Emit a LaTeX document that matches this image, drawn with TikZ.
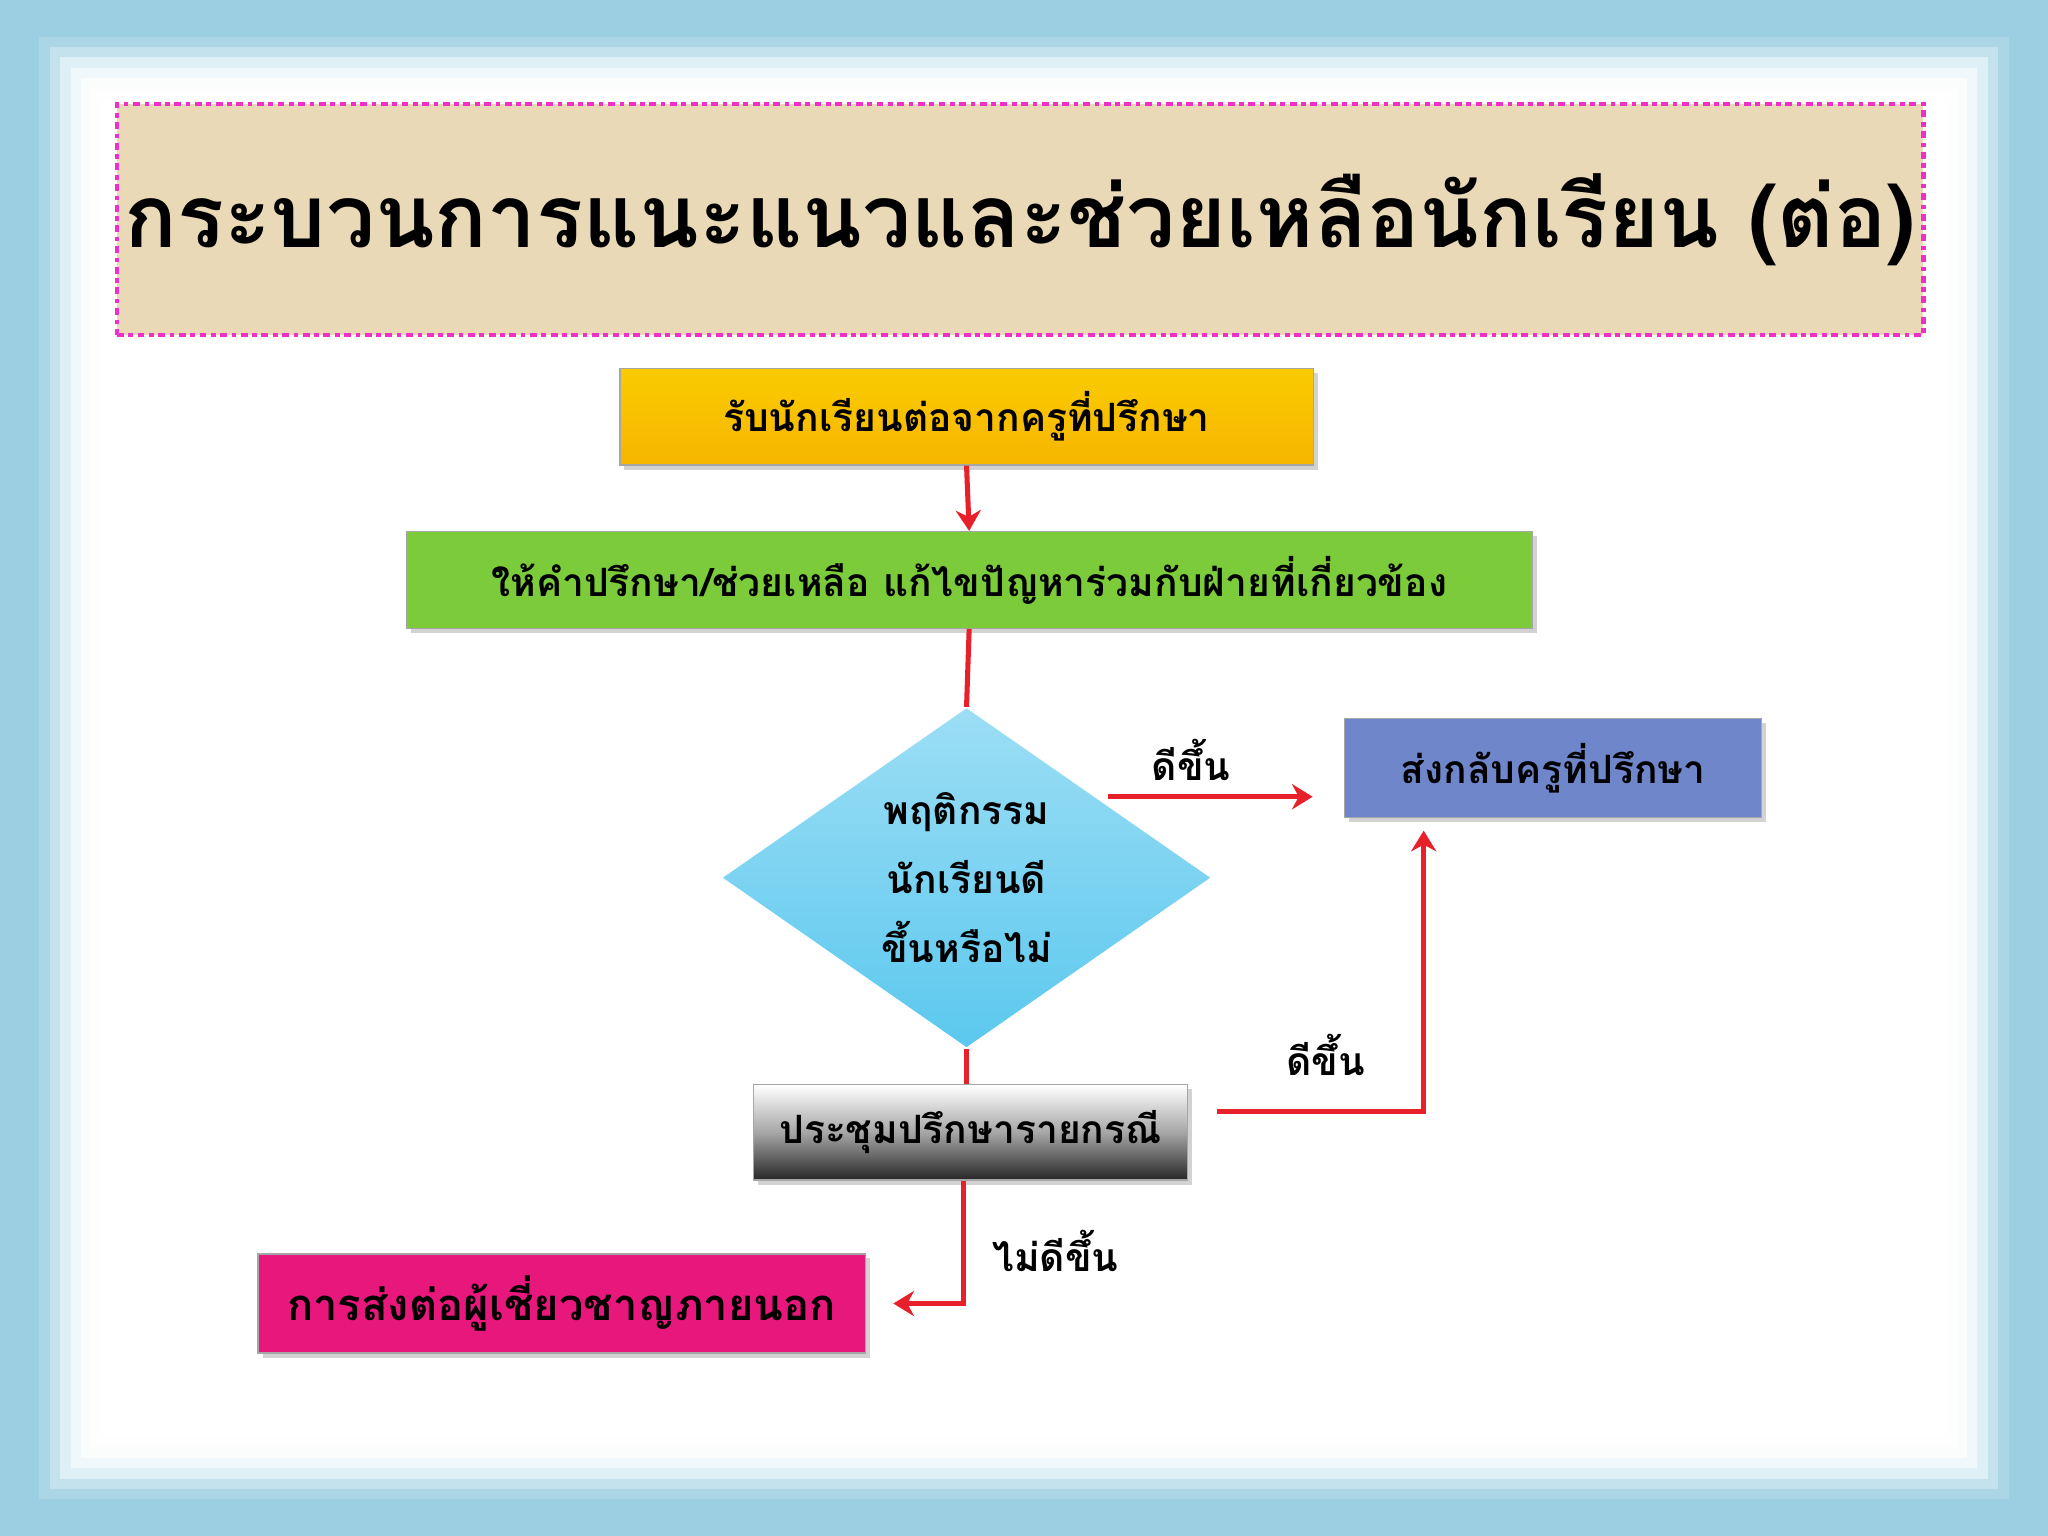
\documentclass[tikz,border=0pt]{standalone}
\usepackage{fontspec}
\newfontfamily\thai[Script=Thai]{Loma}
\usetikzlibrary{shapes.geometric,arrows.meta,shadows}
\definecolor{frameblue}{HTML}{9CCFE2}
\definecolor{beige}{HTML}{E9D9B6}
\definecolor{mag}{HTML}{F02FC8}
\definecolor{orng}{HTML}{F7B500}
\definecolor{grn}{HTML}{7CCB3A}
\definecolor{dblue}{HTML}{5BC8EE}
\definecolor{bbox}{HTML}{6F86CA}
\definecolor{pink}{HTML}{E8177C}
\definecolor{arr}{HTML}{E8202A}
\tikzset{
  box/.style={draw=black!35,line width=0.6pt,minimum height=1.48cm,font=\thai\bfseries\fontsize{17}{20}\selectfont,inner sep=0pt,drop shadow={opacity=0.35,shadow xshift=2pt,shadow yshift=-2pt}},
  conn/.style={draw=arr,line width=2.2pt},
  arrw/.style={conn,-{Stealth[length=9pt,width=11pt]}},
  lbl/.style={font=\thai\bfseries\fontsize{17}{20}\selectfont}
}
\begin{document}
\begin{tikzpicture}[x=0.02cm,y=-0.02cm]
\useasboundingbox (0,0) rectangle (1568,1176);
\fill[frameblue] (0,0) rectangle (1568,1176);
\foreach \i/\o in {0/0.15,8/0.3,16/0.45,24/0.6,32/0.75,40/0.9,48/1}
  \fill[white,opacity=\o] (30+\i,28+\i) rectangle (1538-\i,1148-\i);
% title
\node[draw=mag,line width=2pt,dash dot,fill=beige,minimum width=27.46cm,minimum height=3.54cm,font=\thai\bfseries\fontsize{38}{44}\selectfont] (title) at (781,168) {กระบวนการแนะแนวและช่วยเหลือนักเรียน (ต่อ)};
% boxes
\node[box,top color=orng!70!yellow,bottom color=orng,minimum width=10.62cm] (b1) at (740,319) {รับนักเรียนต่อจากครูที่ปรึกษา};
\node[box,fill=grn,minimum width=17.24cm] (b2) at (742,444) {ให้คำปรึกษา/ช่วยเหลือ แก้ไขปัญหาร่วมกับฝ่ายที่เกี่ยวข้อง};
\node[diamond,draw=white,top color=dblue!60,bottom color=dblue,minimum width=7.5cm,minimum height=4.9cm,inner sep=0pt,align=center,font=\thai\bfseries\fontsize{17}{30}\selectfont] (d) at (740,672) {พฤติกรรม\\นักเรียนดี\\ขึ้นหรือไม่};
\node[box,fill=bbox,minimum width=6.38cm,minimum height=1.52cm] (b3) at (1189,588) {ส่งกลับครูที่ปรึกษา};
\node[box,top color=white,bottom color=black!85,middle color=black!35,minimum width=6.64cm,minimum height=1.46cm] (b4) at (743,867) {ประชุมปรึกษารายกรณี};
\node[box,fill=pink,minimum width=9.3cm,minimum height=1.52cm,font=\thai\bfseries\fontsize{19}{22}\selectfont] (b5) at (430,998) {การส่งต่อผู้เชี่ยวชาญภายนอก};
% connectors
\draw[arrw] (b1.south) -- (b2.north);
\draw[conn] (b2.south) -- (d.north);
\coordinate (s1) at (848,610);
\coordinate (e1) at (1005,610);
\draw[arrw] (s1) -- (e1);
\node[lbl] (l1) at (912,582) {ดีขึ้น};
\draw[conn] (d.south) -- (b4.north -| d.south);
\coordinate (s2) at (932,851);
\coordinate (c2) at (1090,851);
\coordinate (e2) at (1090,636);
\draw[arrw] (s2) -- (c2) -- (e2);
\node[lbl] (l2) at (1015,808) {ดีขึ้น};
\coordinate (s3) at (738,904);
\coordinate (c3) at (738,998);
\coordinate (e3) at (684,998);
\draw[arrw] (s3) -- (c3) -- (e3);
\node[lbl] (l3) at (808,958) {ไม่ดีขึ้น};
\end{tikzpicture}
\end{document}
